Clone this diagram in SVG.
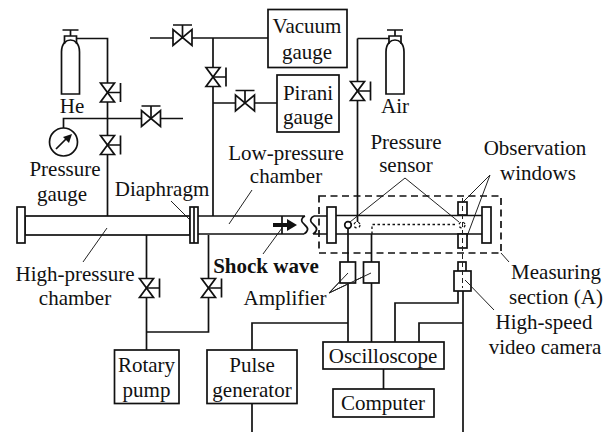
<svg xmlns="http://www.w3.org/2000/svg" xmlns:xlink="http://www.w3.org/1999/xlink" width="614" height="432" viewBox="0 0 614 432">
<style>
.l{fill:none;stroke:#111;stroke-width:1.7}
.s{fill:#fff;stroke:#111;stroke-width:1.7}
.t{fill:none;stroke:#222;stroke-width:1}
.d{fill:none;stroke:#111;stroke-width:1.7;stroke-dasharray:7 4.5}
.o{fill:none;stroke:#111;stroke-width:1.3;stroke-dasharray:2.5 2.5}
text{font-family:"Liberation Serif","Times New Roman",serif;font-size:21px;fill:#111;text-anchor:middle}
</style>
<defs>
<g id="vv"><path class="s" d="M-7-9.500H7L-7 9.500H7Z"/><path class="l" d="M0 0H13M13-9.500V9.500"/></g>
<g id="vh"><path class="s" d="M-9.500-8V8L9.500-8V8Z"/><path class="l" d="M0 0V-12.500M-9.500-12.500H9.500"/></g>
<g id="cyl"><path class="s" d="M-9 56V14C-9 5-4 2 0 2S9 5 9 14V56Z"/><path class="l" d="M-6 6V-2H6V6M0-2V-8M-8-8H8"/></g>
</defs>
<g id="connectors">
<path class="l" d="M76 38.500H107.500V216M63.500 128V118.500H183M150 38H268M213 38V216M213 103H277M357.500 38.500H389M357.500 38.500V222"/>
<path class="l" d="M146.500 235V350M208.500 235V332H146.500M348 229V342M371.500 234V342M252 350V323H348M252 403V432M383.500 369V389M458 291V303H395V342M463 291V432M463 323H419V342"/>
<path class="o" d="M372 234V224.500H456"/>
<path class="t" d="M252 190L229 224M171 201L194 224M107 228L83 262M282 228L263 254M405 178L350 222M405 178L459 222M490 175L463 202M490 175L463 247M329 293L348 273M329 293L371 273M501 253L509 262M465 280L494 310"/>
</g>
<g id="high-pressure-chamber">
<rect class="l" x="25" y="216" width="165" height="19"/>
<rect class="s" x="17" y="207" width="8" height="36"/>
<text x="75" y="281">High-pressure</text><text x="75" y="305">chamber</text>
</g>
<g id="diaphragm">
<rect class="s" x="190" y="207" width="8" height="36"/><path class="l" d="M194 207V243"/>
<text x="162" y="196">Diaphragm</text>
</g>
<g id="low-pressure-chamber">
<path class="l" d="M198 216H305M198 234H304M282 216V234M305 216C301 218 301 221 303 223C306 226 309 228 307 231C306 233 305 233 304 234M314 216C310 218 310 221 312 223C315 226 318 228 316 231C315 233 314 233 313 234M314 216H327M313 234H327"/>
<path fill="#111" d="M273 223H287V219L297 225L287 231V227H273Z"/>
<text x="286" y="160">Low-pressure</text><text x="286" y="183">chamber</text>
<text x="266" y="273" style="font-weight:bold">Shock wave</text>
</g>
<g id="measuring-section">
<path class="l" d="M336 215.500H482M336 234H482"/>
<rect class="d" x="319" y="196" width="182" height="57"/>
<rect class="s" x="327" y="207" width="9" height="36"/>
<rect class="s" x="482" y="207" width="9" height="36"/>
<rect class="s" x="458" y="202" width="9" height="13"/>
<rect class="s" x="458" y="234" width="9" height="14"/>
<path class="t" stroke-dasharray="5 3" d="M462.500 198V270"/>
<circle class="s" cx="348" cy="225" r="3.300"/>
<circle class="o" cx="357" cy="225" r="3"/>
<circle class="o" cx="462" cy="225" r="3"/>
<text x="556" y="279">Measuring</text><text x="556" y="304">section (A)</text>
</g>
<g id="he-cylinder"><use href="#cyl" x="70.500" y="38"/><text x="72" y="113">He</text></g>
<g id="air-cylinder"><use href="#cyl" x="395" y="38"/><text x="395" y="113">Air</text></g>
<g id="valves">
<use href="#vv" x="107.500" y="92.500"/><use href="#vv" x="107.500" y="145"/><use href="#vh" x="151" y="118.500"/>
<use href="#vh" x="182.500" y="37.500"/><use href="#vv" x="213" y="77"/><use href="#vh" x="245" y="103"/>
<use href="#vv" x="357.500" y="91"/><use href="#vv" x="146.500" y="288"/><use href="#vv" x="208.500" y="288"/>
</g>
<g id="pressure-gauge">
<circle class="s" cx="63.500" cy="142" r="14"/>
<path class="l" d="M56 149L67 138"/><path fill="#111" d="M72 134L69 143L63 137Z"/>
<text x="65" y="176">Pressure</text><text x="62" y="201">gauge</text>
</g>
<g id="vacuum-gauge"><rect class="s" x="268" y="9.500" width="79" height="58"/><text x="307" y="33">Vacuum</text><text x="307" y="59">gauge</text></g>
<g id="pirani-gauge"><rect class="s" x="277" y="75" width="62" height="57"/><text x="308" y="100">Pirani</text><text x="308" y="124">gauge</text></g>
<g id="pressure-sensor"><text x="406" y="149">Pressure</text><text x="406" y="172">sensor</text></g>
<g id="observation-windows"><text x="535" y="155">Observation</text><text x="538" y="180">windows</text></g>
<g id="amplifier">
<rect class="s" x="340" y="262" width="15.500" height="21"/><rect class="s" x="363.500" y="262" width="15.500" height="21"/>
<path class="t" d="M329 293L348 273M329 293L371 273"/>
<text x="285" y="305">Amplifier</text>
</g>
<g id="camera">
<rect class="s" x="458" y="262" width="8" height="10"/><rect class="s" x="454" y="271" width="17" height="20"/>
<path class="t" stroke-dasharray="5 3" d="M462.500 262V288"/><path class="t" d="M465 280L472 287"/>
<text x="544" y="329">High-speed</text><text x="545" y="354">video camera</text>
</g>
<g id="rotary-pump"><rect class="s" x="114.500" y="350" width="64.500" height="53.500"/><text x="146.500" y="372">Rotary</text><text x="146.500" y="397">pump</text></g>
<g id="pulse-generator"><rect class="s" x="207" y="350" width="90" height="53.500"/><text x="252" y="372">Pulse</text><text x="252" y="397">generator</text></g>
<g id="oscilloscope"><rect class="s" x="323" y="342" width="121" height="27"/><text x="383" y="363">Oscilloscope</text></g>
<g id="computer"><rect class="s" x="333" y="389" width="101" height="28"/><text x="383" y="410">Computer</text></g>
</svg>
